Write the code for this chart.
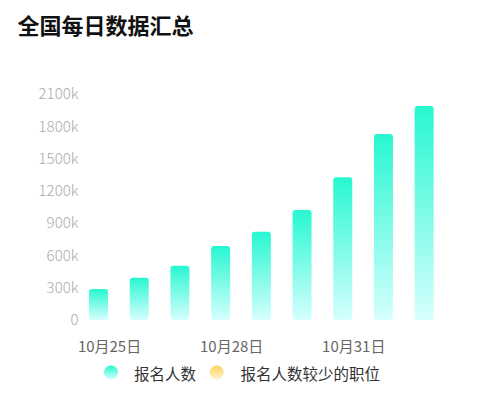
<!DOCTYPE html>
<html>
<head>
<meta charset="utf-8">
<script src="https://cdn.jsdelivr.net/npm/d3@7"></script>
<style>
    html, body { margin: 0; padding: 0; background: #fff; }
    svg { display: block; font-family: 'Noto Sans CJK SC', 'Noto Sans', sans-serif; }
</style>
</head>
<body>
<figure id="chart" style="margin:0"></figure>
<script>
// categories along the x axis
const dates = ['10月25日', '10月26日', '10月27日', '10月28日', '10月29日', '10月30日', '10月31日', '11月1日', '11月2日'];

// series values (k)
const signups = [288, 393, 505, 688, 820, 1022, 1326, 1728, 1988];
const fewPositions = []; // empty in the picture

const seriesNames = ['报名人数', '报名人数较少的职位'];
const yTicks = [0, 300, 600, 900, 1200, 1500, 1800, 2100];

const dimensions = {
    width: 478,
    height: 396,
    marginTop: 94,
    marginBottom: 76,
    marginLeft: 89.2,
    marginRight: 22.5,
};

const colors = {
    '报名人数': ['#27f7d0', '#d6fffe'],
    '报名人数较少的职位': ['#ffd25e', '#fff4cc'],
};

const svg = d3
    .select('#chart')
    .append('svg')
    .attr('width', dimensions.width)
    .attr('height', dimensions.height);

/* Gradients, one for each series */
const defs = svg.append('defs');
seriesNames.forEach((name, i) => {
    const g = defs
        .append('linearGradient')
        .attr('id', 'grad' + i)
        .attr('x1', 0).attr('y1', 0)
        .attr('x2', 0).attr('y2', 1);
    g.append('stop').attr('offset', '0%').attr('stop-color', colors[name][0]);
    g.append('stop').attr('offset', '100%').attr('stop-color', colors[name][1]);
});

/* Title */
svg.append('text')
    .attr('x', 17.5)
    .attr('y', 24)
    .attr('dominant-baseline', 'central')
    .attr('font-size', 22)
    .attr('font-weight', 'bold')
    .attr('fill', '#111')
    .text('全国每日数据汇总');

const xScale = d3
    .scaleBand()
    .domain(dates)
    .range([dimensions.marginLeft, dimensions.width - dimensions.marginRight]);

const step = xScale.step();

// two series side by side in each band, second one empty
const xSub = d3
    .scaleBand()
    .domain(seriesNames)
    .range([step / 2 - 22, step / 2 + 22])
    .paddingInner(0.136)
    .paddingOuter(0.068);

const yScale = d3
    .scaleLinear()
    .domain([0, 2100])
    .range([dimensions.height - dimensions.marginBottom, dimensions.marginTop]);

/* Y axis */
const yAxis = d3
    .axisLeft(yScale)
    .tickValues(yTicks)
    .tickSize(0)
    .tickPadding(0)
    .tickFormat(d => (d === 0 ? '0' : d + 'k'));

const gY = svg.append('g').attr('transform', 'translate(78.5, 0)').call(yAxis);
gY.select('.domain').remove();
gY.selectAll('text')
    .attr('font-size', 15)
    .attr('font-family', "'Noto Sans CJK SC', sans-serif")
    .attr('font-weight', 300)
    .attr('fill', '#aaa');

/* X axis */
const xAxis = d3
    .axisBottom(xScale)
    .tickSize(0)
    .tickPadding(0)
    .tickValues(dates.filter((d, i) => i % 3 === 0));

const gX = svg
    .append('g')
    .attr('transform', `translate(0, ${dimensions.height - dimensions.marginBottom + 25.5})`)
    .call(xAxis);
gX.select('.domain').remove();
gX.selectAll('text')
    .attr('dy', 0)
    .attr('dominant-baseline', 'central')
    .attr('font-size', 15)
    .attr('font-family', "'Noto Sans CJK SC', sans-serif")
    .attr('fill', '#666');

/* Bars */
const seriesData = [signups, fewPositions];
seriesData.forEach((values, i) => {
    svg.append('g')
        .selectAll('rect')
        .data(values)
        .join('rect')
        .attr('x', (d, j) => xScale(dates[j]) + xSub(seriesNames[i]))
        .attr('y', d => yScale(d))
        .attr('width', xSub.bandwidth())
        .attr('height', d => yScale(0) - yScale(d))
        .attr('rx', 3)
        .attr('fill', `url(#grad${i})`);
});

/* Legend */
const legendItems = [
    { name: seriesNames[0], cx: 111, tx: 134 },
    { name: seriesNames[1], cx: 216.7, tx: 240.5 },
];
const legend = svg.append('g').attr('transform', 'translate(0, 372.5)');
legendItems.forEach((item, i) => {
    legend.append('circle')
        .attr('cx', item.cx)
        .attr('cy', 0)
        .attr('r', 7)
        .attr('fill', `url(#grad${i})`);
    legend.append('text')
        .attr('x', item.tx)
        .attr('y', 0)
        .attr('dominant-baseline', 'central')
        .attr('font-size', 15.5)
        .attr('fill', '#333')
        .text(item.name);
});
</script>
</body>
</html>
